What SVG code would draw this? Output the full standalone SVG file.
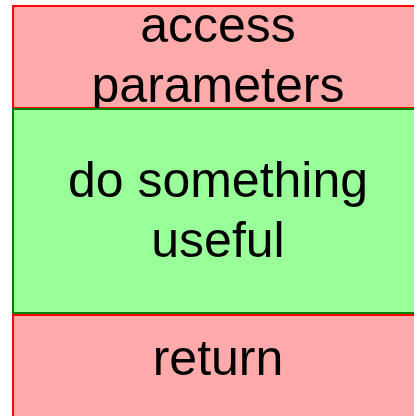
<svg xmlns="http://www.w3.org/2000/svg" width="414" height="416" viewBox="0 0 414 416">
<style>
.red{fill:#ffaaaa;stroke:#ff0000;stroke-width:2}
.green{fill:#99ff99;stroke:#008000;stroke-width:2}
text{font-family:"Liberation Sans",Arial,sans-serif;font-size:50px;fill:#000;text-anchor:middle}
</style>
<rect width="414" height="416" fill="#ffffff"/>
<g id="access">
<rect class="red" x="13" y="6" width="410" height="102"/>
<text x="218" y="42">access</text>
<text x="218" y="102">parameters</text>
</g>
<g id="do-something">
<rect class="green" x="13" y="109" width="410" height="204"/>
<text x="218" y="197">do something</text>
<text x="218" y="257">useful</text>
</g>
<g id="return">
<rect class="red" x="13" y="315" width="410" height="110"/>
<text x="218" y="375">return</text>
</g>
<g id="connectors"/>
</svg>
